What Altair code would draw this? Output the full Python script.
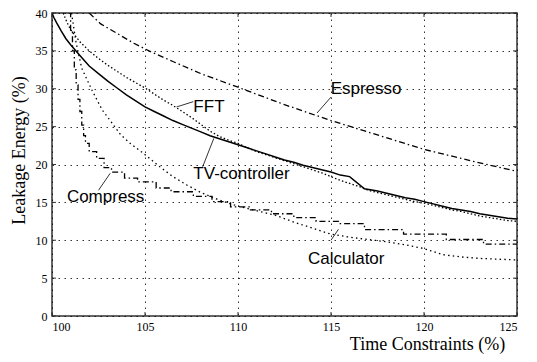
import altair as alt
import pandas as pd

# ---- data ----
esp_x = [102.0, 102.6, 103.5, 104.4, 105.3, 106.5, 108.0, 110.0, 112.5, 115.0, 117.5, 120.0, 122.5, 125.0]
esp_y = [40.0, 38.6, 37.3, 36.0, 34.9, 33.6, 32.0, 30.2, 27.9, 25.8, 23.9, 22.0, 20.5, 19.1]

tv_x = [100.0, 100.1, 100.25, 100.5, 100.75, 101.0, 101.5, 102.0, 102.5, 103.0, 103.5, 104.0, 104.5,
        105.0, 105.5, 106.0, 106.5, 107.0, 107.5, 108.0, 108.5, 109.0, 109.5, 110.0, 110.5, 111.0,
        111.5, 112.0, 112.5, 113.0, 113.5, 114.0, 114.5, 115.0, 115.5, 116.0, 116.8, 117.5, 118.0,
        118.5, 119.0, 119.5, 120.0, 120.5, 121.0, 121.5, 122.0, 122.5, 123.0, 123.5, 124.0, 124.5, 125.0]
tv_y = [40.0, 39.4, 38.7, 37.6, 36.6, 35.8, 34.4, 33.0, 32.0, 31.0, 30.1, 29.2, 28.4,
        27.6, 27.0, 26.4, 25.8, 25.3, 24.8, 24.3, 23.8, 23.4, 23.0, 22.6, 22.2, 21.8,
        21.4, 21.0, 20.6, 20.3, 19.9, 19.6, 19.3, 19.0, 18.6, 18.4, 16.8, 16.5, 16.2,
        15.9, 15.6, 15.4, 15.1, 14.8, 14.5, 14.2, 14.0, 13.8, 13.5, 13.3, 13.1, 12.9, 12.8]

fft_x = [100.6, 100.8, 101.0, 101.5, 102.0, 102.5, 103.0, 103.5, 104.0, 104.5, 105.0, 105.5,
         106.0, 106.5, 107.0, 107.5, 108.0, 108.5, 109.0, 109.5, 110.0, 110.5, 111.0, 111.5,
         112.0, 112.5, 113.0, 113.5, 114.0, 114.5, 115.0, 115.5, 116.0, 116.5, 117.0, 117.5,
         118.0, 118.5, 119.0, 119.5, 120.0, 120.5, 121.0, 121.5, 122.0, 122.5, 123.0, 123.5,
         124.0, 124.5, 125.0]
fft_y = [40.0, 38.8, 37.8, 36.2, 35.0, 34.0, 33.1, 32.3, 31.5, 30.8, 30.1, 29.3,
         28.5, 27.8, 27.0, 26.2, 25.3, 24.4, 23.7, 23.2, 22.8, 22.2, 21.7, 21.3,
         20.9, 20.5, 20.1, 19.7, 19.3, 18.9, 18.4, 17.9, 17.5, 17.1, 16.6, 16.3,
         16.0, 15.7, 15.4, 15.1, 14.9, 14.6, 14.3, 14.0, 13.8, 13.5, 13.2, 13.0,
         12.8, 12.6, 12.5]

cmp_x = [100.9, 101.0, 101.1, 101.2, 101.3, 101.4, 101.5, 101.6, 101.7, 101.8, 102.0, 102.4,
         102.8, 103.2, 103.9, 104.6, 105.6, 106.4, 107.6, 108.6, 109.6, 110.6, 111.8, 113.0,
         114.2, 115.4, 116.8, 118.9, 121.2, 123.2, 125.0]
cmp_y = [40.0, 37.5, 35.0, 32.5, 30.5, 28.6, 27.0, 25.2, 23.8, 22.8, 21.7, 20.8,
         19.6, 19.0, 18.2, 17.7, 16.9, 16.4, 15.8, 15.1, 14.4, 14.0, 13.5, 13.0,
         12.5, 12.2, 11.4, 10.8, 10.1, 9.5, 9.5]

calc_x = [101.05, 101.3, 101.6, 102.15, 102.7, 103.1, 103.7, 104.2, 104.9, 105.8, 106.5, 107.25,
          108.0, 109.0, 110.0, 111.0, 112.0, 113.0, 114.0, 115.0, 116.0, 117.0, 118.0, 119.0,
          120.0, 121.0, 122.0, 123.0, 124.0, 125.0]
calc_y = [40.0, 36.0, 32.7, 29.8, 27.2, 25.9, 23.9, 22.8, 21.5, 19.7, 18.4, 17.3,
          16.3, 15.3, 14.5, 13.9, 13.3, 12.4, 11.6, 10.8, 10.4, 10.1, 9.8, 9.4,
          8.9, 8.1, 7.8, 7.6, 7.5, 7.4]

label_text = ["Espresso", "FFT", "TV-controller", "Compress", "Calculator"]
label_x = [114.98, 107.6, 107.6, 100.8, 113.76]
label_y = [29.3, 26.9, 18.1, 15.0, 6.86]

ptr_x = [115.0, 107.6, 108.1, 102.5, 115.0]
ptr_y = [28.9, 28.3, 19.7, 16.6, 10.0]
ptr_x2 = [114.25, 106.7, 108.7, 103.13, 115.4]
ptr_y2 = [26.8, 27.6, 23.45, 18.84, 11.45]

x_ticks = [100, 105, 110, 115, 120, 125]
y_ticks = [0, 5, 10, 15, 20, 25, 30, 35, 40]

W, H = 465, 303

xs = alt.Scale(domain=[100, 125], nice=False, zero=False)
ys = alt.Scale(domain=[0, 40], nice=False)

serif = "Liberation Serif"
xaxis = alt.Axis(values=x_ticks, labelFont=serif, labelFontSize=12, labelColor="black",
                 ticks=False, domain=False, labelPadding=5,
                 grid=True, gridColor="black", gridDash=[1.5, 4.5], gridWidth=0.8, gridOpacity=1,
                 title="Time Constraints (%)", titleFont=serif, titleFontSize=18,
                 titleFontWeight="normal", titleColor="black",
                 titleX=375, titleY=33, titleAlign="center", titleBaseline="alphabetic")
yaxis = alt.Axis(values=y_ticks, labelFont=serif, labelFontSize=12, labelColor="black",
                 ticks=False, domain=False, labelPadding=5,
                 grid=True, gridColor="black", gridDash=[1.5, 4.5], gridWidth=0.8, gridOpacity=1,
                 title="Leakage Energy (%)", titleFont=serif, titleFontSize=18,
                 titleFontWeight="normal", titleColor="black",
                 titleX=-28, titleY=137, titleAngle=270, titleAlign="center",
                 titleBaseline="alphabetic")

X = lambda f: alt.X(f, scale=xs, axis=xaxis)
Y = lambda f: alt.Y(f, scale=ys, axis=yaxis)


def series(xv, yv):
    return pd.DataFrame({"x": xv, "y": yv})


def line(df, dash=None, interp="linear", width=1.3):
    kw = dict(color="black", strokeWidth=width, interpolate=interp, clip=True)
    if dash:
        kw["strokeDash"] = dash
    return alt.Chart(df).mark_line(**kw).encode(x=X("x:Q"), y=Y("y:Q"))


espresso = line(series(esp_x, esp_y), dash=[6, 3, 1.5, 3])
tv = line(series(tv_x, tv_y), width=1.5)
fft = line(series(fft_x, fft_y), dash=[1.5, 2.2])
compress = line(series(cmp_x, cmp_y), dash=[6, 3, 1.5, 3], interp="step-after")
calc = line(series(calc_x, calc_y), dash=[1.5, 3.2])

labels = alt.Chart(pd.DataFrame({"t": label_text, "x": label_x, "y": label_y})).mark_text(
    align="left", baseline="alphabetic", font="Liberation Sans", fontSize=17, color="black"
).encode(x=X("x:Q"), y=Y("y:Q"), text="t:N")

pointers = alt.Chart(pd.DataFrame({"x": ptr_x, "y": ptr_y, "x2": ptr_x2, "y2": ptr_y2})).mark_rule(
    color="black", strokeWidth=0.8
).encode(x=X("x:Q"), y=Y("y:Q"), x2="x2:Q", y2="y2:Q")

xt = pd.DataFrame({"x": x_ticks})
yt = pd.DataFrame({"y": y_ticks})
tick_kw = dict(color="#333", strokeWidth=1)
tick_b = alt.Chart(xt).mark_rule(**tick_kw).encode(
    x=X("x:Q"), y=alt.value(H), y2=alt.value(H - 4))
tick_t = alt.Chart(xt).mark_rule(**tick_kw).encode(
    x=X("x:Q"), y=alt.value(0), y2=alt.value(4))
tick_l = alt.Chart(yt).mark_rule(**tick_kw).encode(
    y=Y("y:Q"), x=alt.value(0), x2=alt.value(4))
tick_r = alt.Chart(yt).mark_rule(**tick_kw).encode(
    y=Y("y:Q"), x=alt.value(W), x2=alt.value(W - 4))

chart = alt.layer(
    espresso, tv, fft, compress, calc, pointers, labels,
    tick_b, tick_t, tick_l, tick_r,
).properties(
    width=W, height=H,
    autosize=alt.AutoSizeParams(type="none"),
    padding={"left": 52, "top": 13, "right": 20, "bottom": 46},
    background="white",
).configure_view(stroke="#333", strokeWidth=1.5)

chart.save("out.html", embed_options={"renderer": "svg", "actions": False})
